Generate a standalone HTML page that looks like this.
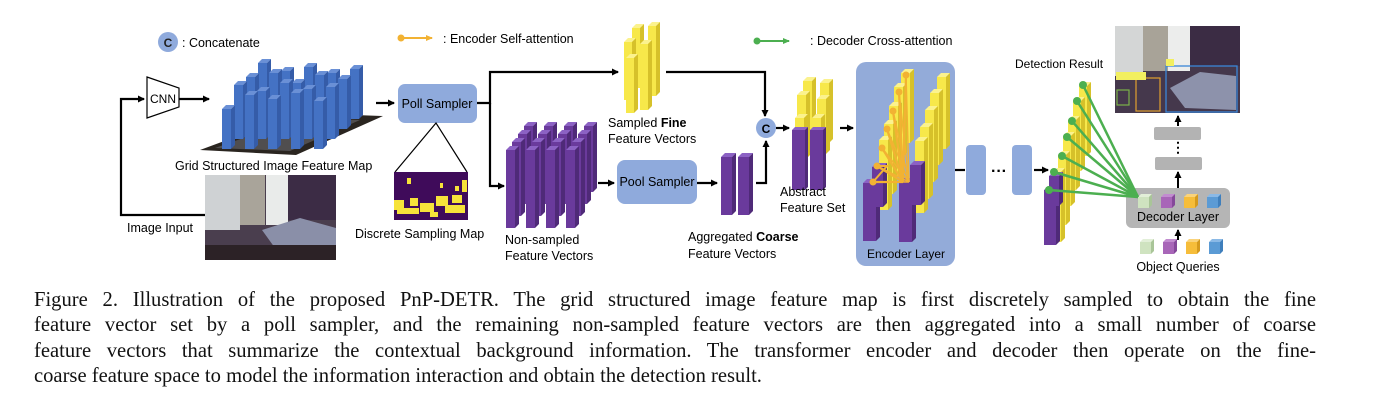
<!DOCTYPE html>
<html><head><meta charset="utf-8"><style>
html,body{margin:0;padding:0;background:#fff;}
body{width:1374px;height:410px;position:relative;overflow:hidden;}
svg{position:absolute;left:0;top:0;}
.cap{position:absolute;left:34px;width:1282px;top:288px;font-family:"Liberation Serif",serif;font-size:20.6px;line-height:25.4px;color:#111;}
.cap div{text-align:justify;text-align-last:justify;white-space:nowrap;}
.cap div.last{text-align-last:left;}
</style></head><body>
<svg id="s" width="1374" height="290" viewBox="0 0 1374 290" font-family="Liberation Sans, sans-serif">
<defs>
<marker id="a" markerWidth="8" markerHeight="8" refX="6" refY="4" orient="auto" markerUnits="userSpaceOnUse"><path d="M0,0.5 L7,4 L0,7.5z" fill="#000"/></marker>
<marker id="ay" markerWidth="8" markerHeight="8" refX="6" refY="4" orient="auto" markerUnits="userSpaceOnUse"><path d="M0,1 L7,4 L0,7z" fill="#f2b233"/></marker>
<marker id="ag" markerWidth="8" markerHeight="8" refX="6" refY="4" orient="auto" markerUnits="userSpaceOnUse"><path d="M0,1 L7,4 L0,7z" fill="#4caf50"/></marker>
</defs>
<g id="bars"></g>
<circle cx="168" cy="42" r="10" fill="#8faadc"/><text x="168" y="47" font-size="12" font-weight="bold" text-anchor="middle" fill="#222">C</text>
<text x="182" y="47" font-size="12.5">: Concatenate</text>
<line x1="401" y1="38" x2="432" y2="38" stroke="#f2b233" stroke-width="2" marker-end="url(#ay)"/><circle cx="401" cy="38" r="3.5" fill="#f2b233"/>
<text x="443" y="43" font-size="12.5">: Encoder Self-attention</text>
<line x1="757" y1="41" x2="789" y2="41" stroke="#4caf50" stroke-width="2" marker-end="url(#ag)"/><circle cx="757" cy="41" r="3.5" fill="#4caf50"/>
<text x="810" y="45" font-size="12.5">: Decoder Cross-attention</text>
<polygon points="147,77 179,88 179,107 147,118" fill="#fff" stroke="#000" stroke-width="1.2"/>
<text x="163" y="103" font-size="12" text-anchor="middle">CNN</text>
<polyline points="205,215 121,215 121,99 144,99" fill="none" stroke="#000" stroke-width="2.2" marker-end="url(#a)"/>
<line x1="179" y1="99" x2="209" y2="99" stroke="#000" stroke-width="2.2" marker-end="url(#a)"/>
<polygon points="200,150 296,155 383,116 300,113" fill="#2a2520"/>
<polygon points="215,148 290,151 360,120 300,118" fill="#6b6a70" opacity="0.6"/>
<g id="grid"></g>
<text x="175" y="170" font-size="12.5">Grid Structured Image Feature Map</text>
<line x1="376" y1="103" x2="394" y2="103" stroke="#000" stroke-width="2.2" marker-end="url(#a)"/>
<rect x="398" y="84" width="79" height="39" rx="7" fill="#8faadc"/>
<text x="437" y="108" font-size="12.5" text-anchor="middle">Poll Sampler</text>
<polyline points="477,103 490,103 490,72 618,72" fill="none" stroke="#000" stroke-width="2.2" marker-end="url(#a)"/>
<polyline points="490,103 490,186 504,186" fill="none" stroke="#000" stroke-width="2.2" marker-end="url(#a)"/>
<polyline points="395,172 436,123 467,172" fill="none" stroke="#000" stroke-width="1.2"/>
<rect x="394" y="172" width="74" height="48" fill="#3f0b5a"/>
<g fill="#f6e33a">
<rect x="394" y="200" width="10" height="10"/><rect x="397" y="208" width="22" height="6"/><rect x="410" y="198" width="8" height="8"/><rect x="420" y="203" width="14" height="9"/><rect x="436" y="196" width="12" height="10"/><rect x="445" y="205" width="20" height="8"/><rect x="452" y="195" width="10" height="8"/><rect x="462" y="180" width="5" height="12"/><rect x="407" y="178" width="4" height="6"/><rect x="430" y="212" width="8" height="5"/><rect x="440" y="183" width="3" height="5"/><rect x="455" y="186" width="4" height="5"/>
</g>
<text x="355" y="238" font-size="12.5">Discrete Sampling  Map</text>
<rect x="205" y="175" width="131" height="85" fill="#4a3e4e"/>
<rect x="205" y="175" width="35" height="55" fill="#cfd2d4"/>
<rect x="240" y="175" width="25" height="50" fill="#a9a49a"/>
<rect x="266" y="175" width="22" height="50" fill="#e9ebea"/>
<rect x="288" y="175" width="48" height="45" fill="#3c2c45"/>
<polygon points="262,230 300,218 336,228 336,250 280,255" fill="#8a8fa8"/>
<rect x="205" y="245" width="131" height="15" fill="#2c2226"/>
<text x="127" y="232" font-size="12.5">Image Input</text>
<text x="505" y="244" font-size="12.5">Non-sampled</text>
<text x="505" y="260" font-size="12.5">Feature Vectors</text>
<line x1="598" y1="183" x2="614" y2="183" stroke="#000" stroke-width="2.2" marker-end="url(#a)"/>
<rect x="617" y="160" width="80" height="44" rx="8" fill="#8faadc"/>
<text x="657" y="186" font-size="12.5" text-anchor="middle">Pool Sampler</text>
<line x1="697" y1="183" x2="717" y2="183" stroke="#000" stroke-width="2.2" marker-end="url(#a)"/>
<text x="688" y="241" font-size="12.5">Aggregated <tspan font-weight="bold">Coarse</tspan></text>
<text x="688" y="258" font-size="12.5">Feature Vectors</text>
<polyline points="756,183 766,183 766,141" fill="none" stroke="#000" stroke-width="2.2" marker-end="url(#a)"/>
<polyline points="666,72 765,72 765,116" fill="none" stroke="#000" stroke-width="2.2" marker-end="url(#a)"/>
<text x="608" y="127" font-size="12.5">Sampled <tspan font-weight="bold">Fine</tspan></text>
<text x="608" y="143" font-size="12.5">Feature Vectors</text>
<circle cx="766" cy="128" r="10" fill="#8faadc"/><text x="766" y="133" font-size="12" font-weight="bold" text-anchor="middle">C</text>
<line x1="776" y1="128" x2="789" y2="128" stroke="#000" stroke-width="2.2" marker-end="url(#a)"/>
<line x1="840" y1="128" x2="853" y2="128" stroke="#000" stroke-width="2.2" marker-end="url(#a)"/>
<rect x="856" y="62" width="99" height="204" rx="10" fill="#93abd9"/>
<text x="906" y="258" font-size="12" text-anchor="middle">Encoder Layer</text>
<g id="enc"></g>
<line x1="955" y1="170" x2="965" y2="170" stroke="#000" stroke-width="2.2"/>
<rect x="966" y="145" width="20" height="50" rx="4" fill="#8faadc"/>
<text x="999" y="176" font-size="16" font-weight="bold" text-anchor="middle">···</text>
<rect x="1012" y="145" width="20" height="50" rx="4" fill="#8faadc"/>
<line x1="1034" y1="170" x2="1048" y2="170" stroke="#000" stroke-width="2.2" marker-end="url(#a)"/>
<g id="dec"></g>
<text x="1015" y="68" font-size="12">Detection Result</text>
<rect x="1115" y="26" width="125" height="87" fill="#45384c"/>
<rect x="1115" y="26" width="28" height="50" fill="#d4d6d6"/>
<rect x="1143" y="26" width="25" height="45" fill="#a8a398"/>
<rect x="1168" y="26" width="22" height="45" fill="#ecedec"/>
<rect x="1190" y="26" width="50" height="40" fill="#3b2c44"/>
<polygon points="1170,88 1200,72 1236,76 1236,110 1185,108" fill="#8d92ab"/>
<rect x="1166" y="66" width="71" height="46" fill="none" stroke="#3a86d6" stroke-width="1.3"/>
<rect x="1136" y="78" width="24" height="33" fill="none" stroke="#e0a030" stroke-width="1.2"/>
<rect x="1117" y="90" width="12" height="15" fill="none" stroke="#7bb24a" stroke-width="1.2"/>
<rect x="1116" y="72" width="30" height="8" fill="#f2ef60"/>
<rect x="1166" y="59" width="8" height="7" fill="#f2ef60"/>
<line x1="1178" y1="126" x2="1178" y2="116" stroke="#000" stroke-width="2" marker-end="url(#a)"/>
<rect x="1154" y="127" width="47" height="13" rx="2" fill="#b3b3b3"/>
<text x="1178" y="152" font-size="14" font-weight="bold" text-anchor="middle">⋮</text>
<rect x="1155" y="157" width="47" height="13" rx="2" fill="#b3b3b3"/>
<line x1="1178" y1="188" x2="1178" y2="172" stroke="#000" stroke-width="2" marker-end="url(#a)"/>
<rect x="1126" y="188" width="104" height="40" rx="6" fill="#b5b5b5"/>
<text x="1178" y="221" font-size="12.5" text-anchor="middle">Decoder Layer</text>
<line x1="1178" y1="240" x2="1178" y2="230" stroke="#000" stroke-width="2" marker-end="url(#a)"/>
<g id="q"></g>
<text x="1178" y="271" font-size="12.5" text-anchor="middle">Object Queries</text>
<g id="green"></g>
<text x="780" y="196" font-size="12.5">Abstract</text>
<text x="780" y="212" font-size="12.5">Feature Set</text>
</svg>
<div class="cap">
<div>Figure 2. Illustration of the proposed PnP-DETR. The grid structured image feature map is first discretely sampled to obtain the fine</div>
<div>feature vector set by a poll sampler, and the remaining non-sampled feature vectors are then aggregated into a small number of coarse</div>
<div>feature vectors that summarize the contextual background information. The transformer encoder and decoder then operate on the fine-</div>
<div class="last">coarse feature space to model the information interaction and obtain the detection result.</div>
</div>
<script>
(function(){
var NS="http://www.w3.org/2000/svg";
var C={b:["#4472c4","#355ca8","#6a90d6"],p:["#6a3a9c","#4f2a78","#8c62c4"],y:["#f7e84a","#d6c12a","#fbf28e"],
g:["#cfe3c0","#a9c598","#e2efd8"],m:["#a866b8","#85489a","#c28cd0"],o:["#f6bd3a","#d59a1e","#fad37a"],l:["#5b9bd5","#3f7fbc","#8ab9e6"]};
function el(g,t,a){var e=document.createElementNS(NS,t);for(var k in a)e.setAttribute(k,a[k]);g.appendChild(e);return e;}
function bar(g,x,y,w,h,d,c){var k=C[c];
el(g,"polygon",{points:[x,y,x+d,y-d,x+w+d,y-d,x+w,y].join(","),fill:k[2]});
el(g,"polygon",{points:[x+w,y,x+w+d,y-d,x+w+d,y+h-d,x+w,y+h].join(","),fill:k[1]});
el(g,"rect",{x:x,y:y,width:w,height:h,fill:k[0]});}
var G=document.getElementById("grid");
var hs=[[0,4,2,5,3],[2,0,5,1,3],[1,4,0,3,2],[8,1,3,0,4]];
for(var r=0;r<4;r++)for(var cc=0;cc<5;cc++){var off=3-r;var bx=222+cc*23+off*12,bot=149-off*10;
var ty=bot-56+hs[r][cc]*2;bar(G,bx,ty,9,bot-ty,4,"b");}
var B=document.getElementById("bars");
for(var r2=0;r2<4;r2++)for(var c2=0;c2<4;c2++){var o2=3-r2;bar(B,506+c2*20+o2*6,150-o2*8,9,78-o2*4,4,"p");}
bar(B,632,28,8,60,4,"y");bar(B,648,26,8,70,4,"y");bar(B,624,42,8,58,4,"y");bar(B,640,44,8,66,4,"y");bar(B,626,58,8,55,4,"y");
bar(B,721,157,11,58,4,"p");bar(B,738,157,11,58,4,"p");
bar(B,803,81,9,60,4,"y");bar(B,820,83,9,60,4,"y");bar(B,797,95,9,64,4,"y");bar(B,817,99,9,55,4,"y");bar(B,795,118,9,55,4,"y");bar(B,812,118,9,55,4,"y");
bar(B,792,130,13,60,3,"p");bar(B,810,130,13,60,3,"p");
var E=document.getElementById("enc");
[[901,73],[894,87],[889,106],[884,124],[879,140]].forEach(function(p){bar(E,p[0],p[1],9,70,4,"y");});
[[937,77],[930,93],[925,110],[920,127],[915,141]].forEach(function(p){bar(E,p[0],p[1],9,72,4,"y");});
bar(E,863,183,13,58,4,"p");bar(E,899,182,13,60,4,"p");bar(E,872,167,11,40,4,"p");bar(E,910,165,11,40,4,"p");
var pts=[[906,75],[899,92],[893,111],[887,129],[882,148],[877,166],[873,182]];
pts.forEach(function(p){el(E,"line",{x1:p[0],y1:p[1],x2:903,y2:182,stroke:"#f2b233","stroke-width":2.2});el(E,"line",{x1:p[0],y1:p[1],x2:909,y2:182,stroke:"#f2b233","stroke-width":1.5});});
el(E,"polyline",{points:"873,182 887,166 877,166 903,182",fill:"none",stroke:"#f2b233","stroke-width":2});
pts.forEach(function(p){el(E,"circle",{cx:p[0],cy:p[1],r:3.5,fill:"#f2b233"});});
var D=document.getElementById("dec");
[[1079,86],[1073,101],[1068,120],[1063,136],[1058,155],[1053,172]].forEach(function(p){bar(D,p[0],p[1],8,70,4,"y");});
bar(D,1044,190,12,55,4,"p");bar(D,1049,176,10,30,4,"p");
var Gr=document.getElementById("green");
[[1083,85],[1077,101],[1072,121],[1067,137],[1062,156],[1054,172],[1049,190]].forEach(function(p){
el(Gr,"line",{x1:p[0],y1:p[1],x2:1138,y2:197,stroke:"#4caf50","stroke-width":2.5});el(Gr,"circle",{cx:p[0],cy:p[1],r:4,fill:"#4caf50"});});
var Q=document.getElementById("q");
["g","m","o","l"].forEach(function(c,i){bar(Q,1138+i*23,197,11,11,3,c);bar(Q,1140+i*23,242,11,12,3,c);});
})();
</script>
</body></html>
